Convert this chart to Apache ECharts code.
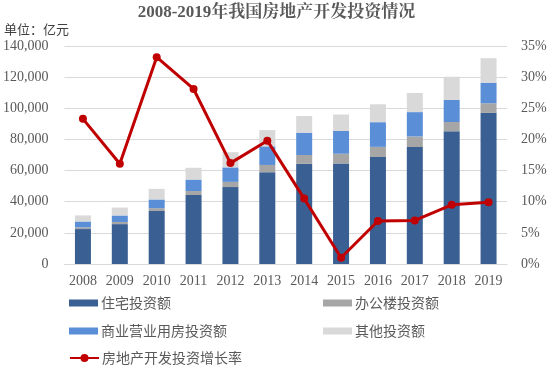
<!DOCTYPE html>
<html><head><meta charset="utf-8">
<script src="https://cdn.jsdelivr.net/npm/echarts@6/dist/echarts.min.js"></script>
<style>html,body{margin:0;padding:0;background:#fff}#c{width:553px;height:369px}</style>
</head><body><div id="c"></div>
<script>
var years = ['2008','2009','2010','2011','2012','2013','2014','2015','2016','2017','2018','2019'];
var residential = [22441,25614,34026,44308,49374,58951,64352,64595,68704,75148,85192,97071];
var office = [1085,1378,1807,2544,3367,4652,5641,6210,6533,6761,5996,6163];
var commercial = [3758,4171,5599,7370,9312,11945,14346,14607,15838,15640,14177,13226];
var other = [3919,5079,6827,7575,9751,10465,10697,10567,11506,12250,14899,15734];
var growth = [23.3,16.1,33.2,28.1,16.2,19.8,10.5,1.0,6.9,7.0,9.5,9.9];
var leftTicks = {min:0,max:140000,interval:20000};
var rightTicks = {min:0,max:35,interval:5};

var names = ['住宅投资额','办公楼投资额','商业营业用房投资额','其他投资额','房地产开发投资增长率'];
var colors = ['#3A5F92','#A6A6A6','#5A8FD8','#D9D9D9','#C00000'];
var numFont = '"Liberation Serif","Times New Roman",serif';
var cjkFont = '"Noto Sans CJK SC","Noto Sans",sans-serif';

function barSeries(i, data){
  return {name:names[i], type:'bar', stack:'a', data:data, barWidth:16,
    itemStyle:{color:colors[i]}, emphasis:{disabled:true}};
}
function legendAt(i, left, top, isLine){
  return {data:[names[i]], left:left, top:top, itemWidth:29, itemHeight:isLine?10:7,
    icon: isLine ? undefined : 'rect',
    textStyle:{fontFamily:cjkFont, fontSize:14, color:'#595959', padding:[0,0,0,-2]},
    selectedMode:false};
}
var chart = echarts.init(document.getElementById('c'), null, {renderer:'canvas'});
chart.setOption({
  animation:false,
  title:[{text:'2008-2019年我国房地产开发投资情况', left:'center', top:-1,
    textStyle:{fontFamily:'"Liberation Serif","Noto Serif CJK SC","Noto Sans CJK SC",serif', fontWeight:'bold', fontSize:17, color:'#595959'}},
    {text:'单位：亿元', left:-1, top:18, textStyle:{fontFamily:cjkFont, fontWeight:'normal', fontSize:13, color:'#404040'}}],
  grid:{left:64, right:46, top:46, bottom:105, containLabel:false},
  legend:[legendAt(0,64,291,false), legendAt(1,318,291,false), legendAt(2,64,319,false), legendAt(3,318,319,false), legendAt(4,64,346,true)],
  xAxis:{type:'category', data:years, axisLine:{lineStyle:{color:'#D9D9D9'}}, axisTick:{show:false},
    axisLabel:{fontFamily:numFont, fontSize:14, color:'#595959', margin:10}},
  yAxis:[{type:'value', min:leftTicks.min, max:leftTicks.max, interval:leftTicks.interval,
    axisLabel:{fontFamily:numFont, fontSize:14, color:'#595959', margin:16,
      formatter:function(v){return v.toLocaleString('en-US');}},
    splitLine:{lineStyle:{color:'#D9D9D9'}}, axisLine:{show:false}, axisTick:{show:false}},
    {type:'value', min:rightTicks.min, max:rightTicks.max, interval:rightTicks.interval,
    axisLabel:{fontFamily:numFont, fontSize:14, color:'#595959', margin:14, formatter:'{value}%'},
    splitLine:{show:false}, axisLine:{show:false}, axisTick:{show:false}}],
  series:[barSeries(0,residential), barSeries(1,office), barSeries(2,commercial), barSeries(3,other),
    {name:names[4], type:'line', yAxisIndex:1, data:growth, symbol:'circle', symbolSize:8,
     lineStyle:{color:colors[4], width:3}, itemStyle:{color:colors[4]}, z:10}]
});
</script></body></html>
